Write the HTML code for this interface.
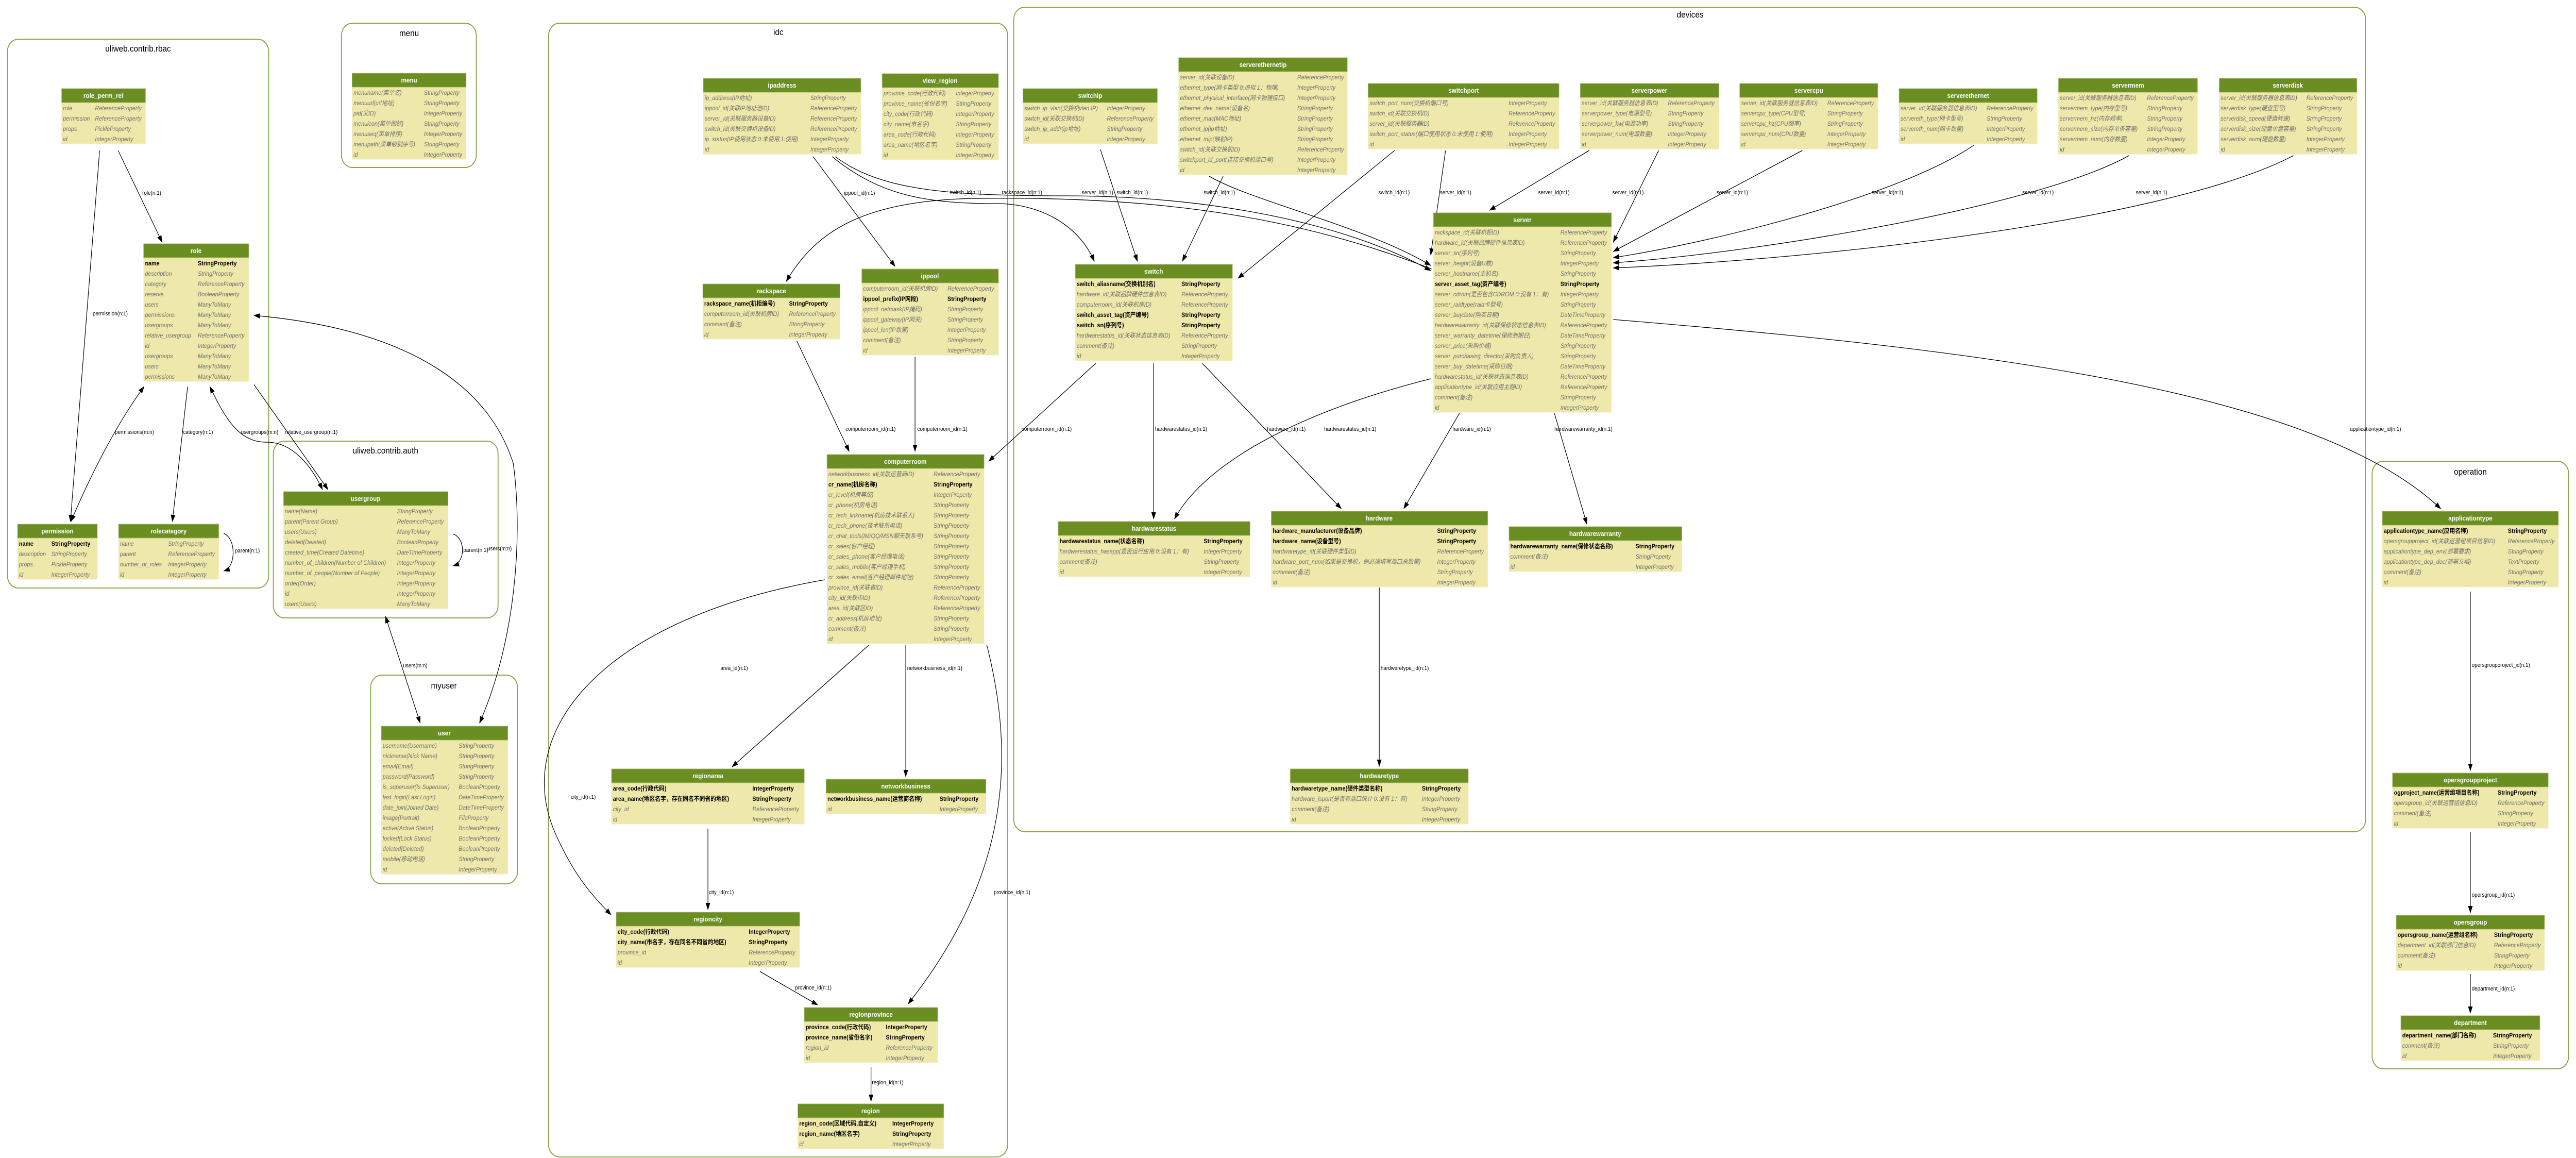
<!DOCTYPE html>
<html><head><meta charset="utf-8"><style>
html,body{margin:0;padding:0;background:#fff;overflow:hidden;width:100%;height:100%}
svg{display:block;width:100vw;height:100vh}
text{font-family:"Liberation Sans Narrow","Liberation Sans","Noto Sans CJK SC",sans-serif}
.h{fill:#fff;font-size:13px;text-anchor:middle;font-weight:bold}
.f{font-style:italic;fill:#707070;font-size:12px}
.b{fill:#000;font-weight:bold;font-size:12px}
.hd{fill:#6b8e23;stroke:#a8b86a;stroke-width:1}
.bd{fill:#eee8aa;stroke:#f2eec4;stroke-width:1}
.cl{fill:none;stroke:#8aa548;stroke-width:2}
.ct{font-size:17px;text-anchor:middle;fill:#000}
.e{fill:none;stroke:#000;stroke-width:1.3}
.l{font-size:11px;fill:#000}
</style></head><body>
<svg viewBox="0 0 5560 2247" preserveAspectRatio="none" xmlns="http://www.w3.org/2000/svg">
<defs>
<marker id="a" markerWidth="14" markerHeight="10" refX="13" refY="5" orient="auto" markerUnits="userSpaceOnUse"><path d="M0,0 L14,5 L0,10 z" fill="#000"/></marker>
<marker id="s" markerWidth="14" markerHeight="10" refX="1" refY="5" orient="auto" markerUnits="userSpaceOnUse"><path d="M14,0 L0,5 L14,10 z" fill="#000"/></marker>
</defs>

<!-- clusters -->
<rect class="cl" x="16" y="76" width="564" height="1065" rx="24"/><text class="ct" x="298" y="100">uliweb.contrib.rbac</text>
<rect class="cl" x="737" y="45" width="291" height="280" rx="24"/><text class="ct" x="883" y="70">menu</text>
<rect class="cl" x="590" y="856" width="485" height="343" rx="24"/><text class="ct" x="832" y="880">uliweb.contrib.auth</text>
<rect class="cl" x="800" y="1310" width="317" height="405" rx="24"/><text class="ct" x="958" y="1336">myuser</text>
<rect class="cl" x="1184" y="45" width="991" height="2200" rx="24"/><text class="ct" x="1680" y="68">idc</text>
<rect class="cl" x="2188" y="14" width="2918" height="1600" rx="24"/><text class="ct" x="3648" y="34">devices</text>
<rect class="cl" x="5120" y="895" width="424" height="1179" rx="24"/><text class="ct" x="5332" y="921">operation</text>

<!-- edges -->
<path class="e" marker-end="url(#a)" d="M255,292 L350,470"/><text class="l" x="307" y="378">role(n:1)</text>
<path class="e" marker-end="url(#a)" d="M215,292 L152,1012"/><text class="l" x="200" y="612">permission(n:1)</text>
<path class="e" marker-start="url(#s)" marker-end="url(#a)" d="M311,750 Q230,850 153,1012"/><text class="l" x="248" y="842">permissions(m:n)</text>
<path class="e" marker-end="url(#a)" d="M405,750 L372,1012"/><text class="l" x="395" y="842">category(n:1)</text>
<path class="e" marker-end="url(#a)" d="M483,1035 C510,1045 510,1100 483,1108"/><text class="l" x="507" y="1072">parent(n:1)</text>
<path class="e" marker-start="url(#s)" marker-end="url(#a)" d="M453,750 C490,820 520,860 580,858 C630,860 670,900 696,950"/><text class="l" x="520" y="842">usergroups(m:n)</text>
<path class="e" marker-end="url(#a)" d="M548,746 L708,950"/><text class="l" x="615" y="842">relative_usergroup(n:1)</text>
<path class="e" marker-start="url(#s)" marker-end="url(#a)" d="M548,612 C900,640 1060,760 1108,900 C1130,1050 1110,1250 1035,1403"/><text class="l" x="1052" y="1068">users(m:n)</text>
<path class="e" marker-end="url(#a)" d="M978,1036 C1005,1045 1005,1090 978,1098"/><text class="l" x="1000" y="1071">parent(n:1)</text>
<path class="e" marker-start="url(#s)" marker-end="url(#a)" d="M832,1196 L907,1403"/><text class="l" x="870" y="1295">users(m:n)</text>

<path class="e" marker-end="url(#a)" d="M1755,304 L1932,517"/><text class="l" x="1822" y="378">ippool_id(n:1)</text>
<path class="e" marker-end="url(#a)" d="M3090,522 C2800,420 2500,380 2100,385 C1860,390 1760,450 1697,546"/><text class="l" x="2162" y="377">rackspace_id(n:1)</text>
<path class="e" marker-end="url(#a)" d="M1796,304 C1900,380 2000,395 2150,395 C2250,395 2330,440 2362,507"/><text class="l" x="2050" y="377">switch_id(n:1)</text>
<path class="e" marker-end="url(#a)" d="M1803,304 C1900,370 2050,380 2300,380 C2600,380 2900,430 3088,525"/>
<path class="e" marker-end="url(#a)" d="M1720,662 L1833,876"/><text class="l" x="1825" y="836">computerroom_id(n:1)</text>
<path class="e" marker-end="url(#a)" d="M1975,692 L1975,876"/><text class="l" x="1980" y="836">computerroom_id(n:1)</text>
<path class="e" marker-end="url(#a)" d="M2365,705 L2134,895"/><text class="l" x="2205" y="836">computerroom_id(n:1)</text>
<path class="e" marker-end="url(#a)" d="M1875,1252 L1580,1488"/><text class="l" x="1555" y="1300">area_id(n:1)</text>
<path class="e" marker-end="url(#a)" d="M1955,1252 L1955,1507"/><text class="l" x="1958" y="1300">networkbusiness_id(n:1)</text>
<path class="e" marker-end="url(#a)" d="M1780,1125 C1300,1200 1100,1420 1200,1620 C1240,1700 1280,1740 1319,1775"/><text class="l" x="1232" y="1550">city_id(n:1)</text>
<path class="e" marker-end="url(#a)" d="M2130,1252 C2200,1500 2160,1720 1960,1948"/><text class="l" x="2145" y="1735">province_id(n:1)</text>
<path class="e" marker-end="url(#a)" d="M1528,1608 L1528,1765"/><text class="l" x="1530" y="1735">city_id(n:1)</text>
<path class="e" marker-end="url(#a)" d="M1640,1885 L1765,1950"/><text class="l" x="1716" y="1920">province_id(n:1)</text>
<path class="e" marker-end="url(#a)" d="M1880,2071 L1880,2137"/><text class="l" x="1882" y="2104">region_id(n:1)</text>

<path class="e" marker-end="url(#a)" d="M2375,290 L2455,507"/><text class="l" x="2410" y="377">switch_id(n:1)</text>
<path class="e" marker-end="url(#a)" d="M2640,342 L2552,507"/><text class="l" x="2598" y="377">switch_id(n:1)</text>
<path class="e" marker-end="url(#a)" d="M2610,342 C2700,390 2950,440 3088,515"/><text class="l" x="2335" y="377">server_id(n:1)</text>
<path class="e" marker-end="url(#a)" d="M3010,292 L2672,540"/><text class="l" x="2975" y="377">switch_id(n:1)</text>
<path class="e" marker-end="url(#a)" d="M3120,292 L3088,495"/><text class="l" x="3108" y="377">server_id(n:1)</text>
<path class="e" marker-end="url(#a)" d="M3430,292 L3215,408"/><text class="l" x="3320" y="377">server_id(n:1)</text>
<path class="e" marker-end="url(#a)" d="M3580,292 L3482,470"/><text class="l" x="3480" y="377">server_id(n:1)</text>
<path class="e" marker-end="url(#a)" d="M3890,292 L3482,488"/><text class="l" x="3705" y="377">server_id(n:1)</text>
<path class="e" marker-end="url(#a)" d="M4260,282 C4100,380 3700,470 3482,500"/><text class="l" x="4040" y="377">server_id(n:1)</text>
<path class="e" marker-end="url(#a)" d="M4595,302 C4400,400 3800,490 3482,510"/><text class="l" x="4365" y="377">server_id(n:1)</text>
<path class="e" marker-end="url(#a)" d="M4950,302 C4700,420 4000,500 3482,520"/><text class="l" x="4610" y="377">server_id(n:1)</text>

<path class="e" marker-end="url(#a)" d="M2490,705 L2490,1007"/><text class="l" x="2493" y="836">hardwarestatus_id(n:1)</text>
<path class="e" marker-end="url(#a)" d="M2595,705 L2895,987"/><text class="l" x="2735" y="836">hardware_id(n:1)</text>
<path class="e" marker-end="url(#a)" d="M3088,735 C2800,800 2600,900 2535,1007"/><text class="l" x="2858" y="836">hardwarestatus_id(n:1)</text>
<path class="e" marker-end="url(#a)" d="M3150,802 L3030,987"/><text class="l" x="3135" y="836">hardware_id(n:1)</text>
<path class="e" marker-end="url(#a)" d="M3355,802 L3425,1017"/><text class="l" x="3355" y="836">hardwarewarranty_id(n:1)</text>
<path class="e" marker-end="url(#a)" d="M3482,620 C4300,680 5000,760 5268,987"/><text class="l" x="5072" y="836">applicationtype_id(n:1)</text>
<path class="e" marker-end="url(#a)" d="M2977,1140 L2977,1487"/><text class="l" x="2980" y="1300">hardwaretype_id(n:1)</text>

<path class="e" marker-end="url(#a)" d="M5332,1148 L5332,1495"/><text class="l" x="5335" y="1294">opersgroupproject_id(n:1)</text>
<path class="e" marker-end="url(#a)" d="M5332,1614 L5332,1771"/><text class="l" x="5335" y="1740">opersgroup_id(n:1)</text>
<path class="e" marker-end="url(#a)" d="M5332,1890 L5332,1966"/><text class="l" x="5335" y="1922">department_id(n:1)</text>

<!-- nodes -->
<g transform="translate(133,172)"><rect class="bd" x="0" y="27" width="181" height="80"/><rect class="hd" x="0" y="0" width="181" height="27"/><text class="h" x="90" y="18">role_perm_rel</text>
<text class="f" x="3" y="42">role</text><text class="f" x="72" y="42">ReferenceProperty</text>
<text class="f" x="3" y="62">permission</text><text class="f" x="72" y="62">ReferenceProperty</text>
<text class="f" x="3" y="82">props</text><text class="f" x="72" y="82">PickleProperty</text>
<text class="f" x="3" y="102">id</text><text class="f" x="72" y="102">IntegerProperty</text></g>

<g transform="translate(760,142)"><rect class="bd" x="0" y="27" width="246" height="140"/><rect class="hd" x="0" y="0" width="246" height="27"/><text class="h" x="123" y="18">menu</text>
<text class="f" x="3" y="42">menuname(菜单名)</text><text class="f" x="155" y="42">StringProperty</text>
<text class="f" x="3" y="62">menuurl(url地址)</text><text class="f" x="155" y="62">StringProperty</text>
<text class="f" x="3" y="82">pid(父ID)</text><text class="f" x="155" y="82">IntegerProperty</text>
<text class="f" x="3" y="102">menuicon(菜单图标)</text><text class="f" x="155" y="102">StringProperty</text>
<text class="f" x="3" y="122">menuseq(菜单排序)</text><text class="f" x="155" y="122">IntegerProperty</text>
<text class="f" x="3" y="142">menupath(菜单级别序号)</text><text class="f" x="155" y="142">StringProperty</text>
<text class="f" x="3" y="162">id</text><text class="f" x="155" y="162">IntegerProperty</text></g>

<g transform="translate(310,473)"><rect class="bd" x="0" y="27" width="227" height="240"/><rect class="hd" x="0" y="0" width="227" height="27"/><text class="h" x="113" y="18">role</text>
<text class="b" x="3" y="42">name</text><text class="b" x="117" y="42">StringProperty</text>
<text class="f" x="3" y="62">description</text><text class="f" x="117" y="62">StringProperty</text>
<text class="f" x="3" y="82">category</text><text class="f" x="117" y="82">ReferenceProperty</text>
<text class="f" x="3" y="102">reserve</text><text class="f" x="117" y="102">BooleanProperty</text>
<text class="f" x="3" y="122">users</text><text class="f" x="117" y="122">ManyToMany</text>
<text class="f" x="3" y="142">permissions</text><text class="f" x="117" y="142">ManyToMany</text>
<text class="f" x="3" y="162">usergroups</text><text class="f" x="117" y="162">ManyToMany</text>
<text class="f" x="3" y="182">relative_usergroup</text><text class="f" x="117" y="182">ReferenceProperty</text>
<text class="f" x="3" y="202">id</text><text class="f" x="117" y="202">IntegerProperty</text>
<text class="f" x="3" y="222">usergroups</text><text class="f" x="117" y="222">ManyToMany</text>
<text class="f" x="3" y="242">users</text><text class="f" x="117" y="242">ManyToMany</text>
<text class="f" x="3" y="262">permissions</text><text class="f" x="117" y="262">ManyToMany</text></g>

<g transform="translate(38,1017)"><rect class="bd" x="0" y="27" width="172" height="80"/><rect class="hd" x="0" y="0" width="172" height="27"/><text class="h" x="86" y="18">permission</text>
<text class="b" x="3" y="42">name</text><text class="b" x="73" y="42">StringProperty</text>
<text class="f" x="3" y="62">description</text><text class="f" x="73" y="62">StringProperty</text>
<text class="f" x="3" y="82">props</text><text class="f" x="73" y="82">PickleProperty</text>
<text class="f" x="3" y="102">id</text><text class="f" x="73" y="102">IntegerProperty</text></g>

<g transform="translate(256,1017)"><rect class="bd" x="0" y="27" width="216" height="80"/><rect class="hd" x="0" y="0" width="216" height="27"/><text class="h" x="108" y="18">rolecategory</text>
<text class="f" x="3" y="42">name</text><text class="f" x="107" y="42">StringProperty</text>
<text class="f" x="3" y="62">parent</text><text class="f" x="107" y="62">ReferenceProperty</text>
<text class="f" x="3" y="82">number_of_roles</text><text class="f" x="107" y="82">IntegerProperty</text>
<text class="f" x="3" y="102">id</text><text class="f" x="107" y="102">IntegerProperty</text></g>

<g transform="translate(612,954)"><rect class="bd" x="0" y="27" width="355" height="200"/><rect class="hd" x="0" y="0" width="355" height="27"/><text class="h" x="177" y="18">usergroup</text>
<text class="f" x="3" y="42">name(Name)</text><text class="f" x="245" y="42">StringProperty</text>
<text class="f" x="3" y="62">parent(Parent Group)</text><text class="f" x="245" y="62">ReferenceProperty</text>
<text class="f" x="3" y="82">users(Users)</text><text class="f" x="245" y="82">ManyToMany</text>
<text class="f" x="3" y="102">deleted(Deleted)</text><text class="f" x="245" y="102">BooleanProperty</text>
<text class="f" x="3" y="122">created_time(Created Datetime)</text><text class="f" x="245" y="122">DateTimeProperty</text>
<text class="f" x="3" y="142">number_of_children(Number of Children)</text><text class="f" x="245" y="142">IntegerProperty</text>
<text class="f" x="3" y="162">number_of_people(Number of People)</text><text class="f" x="245" y="162">IntegerProperty</text>
<text class="f" x="3" y="182">order(Order)</text><text class="f" x="245" y="182">IntegerProperty</text>
<text class="f" x="3" y="202">id</text><text class="f" x="245" y="202">IntegerProperty</text>
<text class="f" x="3" y="222">users(Users)</text><text class="f" x="245" y="222">ManyToMany</text></g>

<g transform="translate(823,1409)"><rect class="bd" x="0" y="27" width="273" height="260"/><rect class="hd" x="0" y="0" width="273" height="27"/><text class="h" x="136" y="18">user</text>
<text class="f" x="3" y="42">username(Username)</text><text class="f" x="167" y="42">StringProperty</text>
<text class="f" x="3" y="62">nickname(Nick Name)</text><text class="f" x="167" y="62">StringProperty</text>
<text class="f" x="3" y="82">email(Email)</text><text class="f" x="167" y="82">StringProperty</text>
<text class="f" x="3" y="102">password(Password)</text><text class="f" x="167" y="102">StringProperty</text>
<text class="f" x="3" y="122">is_superuser(Is Superuser)</text><text class="f" x="167" y="122">BooleanProperty</text>
<text class="f" x="3" y="142">last_login(Last Login)</text><text class="f" x="167" y="142">DateTimeProperty</text>
<text class="f" x="3" y="162">date_join(Joined Date)</text><text class="f" x="167" y="162">DateTimeProperty</text>
<text class="f" x="3" y="182">image(Portrait)</text><text class="f" x="167" y="182">FileProperty</text>
<text class="f" x="3" y="202">active(Active Status)</text><text class="f" x="167" y="202">BooleanProperty</text>
<text class="f" x="3" y="222">locked(Lock Status)</text><text class="f" x="167" y="222">BooleanProperty</text>
<text class="f" x="3" y="242">deleted(Deleted)</text><text class="f" x="167" y="242">BooleanProperty</text>
<text class="f" x="3" y="262">mobile(移动电话)</text><text class="f" x="167" y="262">StringProperty</text>
<text class="f" x="3" y="282">id</text><text class="f" x="167" y="282">IntegerProperty</text></g>

<g transform="translate(1518,152)"><rect class="bd" x="0" y="27" width="340" height="120"/><rect class="hd" x="0" y="0" width="340" height="27"/><text class="h" x="170" y="18">ipaddress</text>
<text class="f" x="3" y="42">ip_address(IP地址)</text><text class="f" x="231" y="42">StringProperty</text>
<text class="f" x="3" y="62">ippool_id(关联IP地址池ID)</text><text class="f" x="231" y="62">ReferenceProperty</text>
<text class="f" x="3" y="82">server_id(关联服务器设备ID)</text><text class="f" x="231" y="82">ReferenceProperty</text>
<text class="f" x="3" y="102">switch_id(关联交换机设备ID)</text><text class="f" x="231" y="102">ReferenceProperty</text>
<text class="f" x="3" y="122">ip_status(IP使用状态 0:未使用,1:使用)</text><text class="f" x="231" y="122">IntegerProperty</text>
<text class="f" x="3" y="142">id</text><text class="f" x="231" y="142">IntegerProperty</text></g>

<g transform="translate(1904,143)"><rect class="bd" x="0" y="27" width="251" height="140"/><rect class="hd" x="0" y="0" width="251" height="27"/><text class="h" x="125" y="18">view_region</text>
<text class="f" x="3" y="42">province_code(行政代码)</text><text class="f" x="159" y="42">IntegerProperty</text>
<text class="f" x="3" y="62">province_name(省份名字)</text><text class="f" x="159" y="62">StringProperty</text>
<text class="f" x="3" y="82">city_code(行政代码)</text><text class="f" x="159" y="82">IntegerProperty</text>
<text class="f" x="3" y="102">city_name(市名字)</text><text class="f" x="159" y="102">StringProperty</text>
<text class="f" x="3" y="122">area_code(行政代码)</text><text class="f" x="159" y="122">IntegerProperty</text>
<text class="f" x="3" y="142">area_name(地区名字)</text><text class="f" x="159" y="142">StringProperty</text>
<text class="f" x="3" y="162">id</text><text class="f" x="159" y="162">IntegerProperty</text></g>

<g transform="translate(1517,551)"><rect class="bd" x="0" y="27" width="296" height="80"/><rect class="hd" x="0" y="0" width="296" height="27"/><text class="h" x="148" y="18">rackspace</text>
<text class="b" x="3" y="42">rackspace_name(机柜编号)</text><text class="b" x="186" y="42">StringProperty</text>
<text class="f" x="3" y="62">computerroom_id(关联机房ID)</text><text class="f" x="186" y="62">ReferenceProperty</text>
<text class="f" x="3" y="82">comment(备注)</text><text class="f" x="186" y="82">StringProperty</text>
<text class="f" x="3" y="102">id</text><text class="f" x="186" y="102">IntegerProperty</text></g>

<g transform="translate(1860,522)"><rect class="bd" x="0" y="27" width="295" height="140"/><rect class="hd" x="0" y="0" width="295" height="27"/><text class="h" x="147" y="18">ippool</text>
<text class="f" x="3" y="42">computerroom_id(关联机房ID)</text><text class="f" x="185" y="42">ReferenceProperty</text>
<text class="b" x="3" y="62">ippool_prefix(IP网段)</text><text class="b" x="185" y="62">StringProperty</text>
<text class="f" x="3" y="82">ippool_netmask(IP掩码)</text><text class="f" x="185" y="82">StringProperty</text>
<text class="f" x="3" y="102">ippool_gateway(IP网关)</text><text class="f" x="185" y="102">StringProperty</text>
<text class="f" x="3" y="122">ippool_len(IP数量)</text><text class="f" x="185" y="122">IntegerProperty</text>
<text class="f" x="3" y="142">comment(备注)</text><text class="f" x="185" y="142">StringProperty</text>
<text class="f" x="3" y="162">id</text><text class="f" x="185" y="162">IntegerProperty</text></g>

<g transform="translate(1785,882)"><rect class="bd" x="0" y="27" width="339" height="340"/><rect class="hd" x="0" y="0" width="339" height="27"/><text class="h" x="169" y="18">computerroom</text>
<text class="f" x="3" y="42">networkbusiness_id(关联运营商ID)</text><text class="f" x="230" y="42">ReferenceProperty</text>
<text class="b" x="3" y="62">cr_name(机房名称)</text><text class="b" x="230" y="62">StringProperty</text>
<text class="f" x="3" y="82">cr_level(机房等级)</text><text class="f" x="230" y="82">IntegerProperty</text>
<text class="f" x="3" y="102">cr_phone(机房电话)</text><text class="f" x="230" y="102">StringProperty</text>
<text class="f" x="3" y="122">cr_tech_linkname(机房技术联系人)</text><text class="f" x="230" y="122">StringProperty</text>
<text class="f" x="3" y="142">cr_tech_phone(技术联系电话)</text><text class="f" x="230" y="142">StringProperty</text>
<text class="f" x="3" y="162">cr_chat_tools(IM/QQ/MSN聊天联系号)</text><text class="f" x="230" y="162">StringProperty</text>
<text class="f" x="3" y="182">cr_sales(客户经理)</text><text class="f" x="230" y="182">StringProperty</text>
<text class="f" x="3" y="202">cr_sales_phone(客户经理电话)</text><text class="f" x="230" y="202">StringProperty</text>
<text class="f" x="3" y="222">cr_sales_mobile(客户经理手机)</text><text class="f" x="230" y="222">StringProperty</text>
<text class="f" x="3" y="242">cr_sales_email(客户经理邮件地址)</text><text class="f" x="230" y="242">StringProperty</text>
<text class="f" x="3" y="262">province_id(关联省ID)</text><text class="f" x="230" y="262">ReferenceProperty</text>
<text class="f" x="3" y="282">city_id(关联市ID)</text><text class="f" x="230" y="282">ReferenceProperty</text>
<text class="f" x="3" y="302">area_id(关联区ID)</text><text class="f" x="230" y="302">ReferenceProperty</text>
<text class="f" x="3" y="322">cr_address(机房地址)</text><text class="f" x="230" y="322">StringProperty</text>
<text class="f" x="3" y="342">comment(备注)</text><text class="f" x="230" y="342">StringProperty</text>
<text class="f" x="3" y="362">id</text><text class="f" x="230" y="362">IntegerProperty</text></g>

<g transform="translate(1320,1492)"><rect class="bd" x="0" y="27" width="416" height="80"/><rect class="hd" x="0" y="0" width="416" height="27"/><text class="h" x="208" y="18">regionarea</text>
<text class="b" x="3" y="42">area_code(行政代码)</text><text class="b" x="304" y="42">IntegerProperty</text>
<text class="b" x="3" y="62">area_name(地区名字，存在同名不同省的地区)</text><text class="b" x="304" y="62">StringProperty</text>
<text class="f" x="3" y="82">city_id</text><text class="f" x="304" y="82">ReferenceProperty</text>
<text class="f" x="3" y="102">id</text><text class="f" x="304" y="102">IntegerProperty</text></g>

<g transform="translate(1783,1512)"><rect class="bd" x="0" y="27" width="345" height="40"/><rect class="hd" x="0" y="0" width="345" height="27"/><text class="h" x="172" y="18">networkbusiness</text>
<text class="b" x="3" y="42">networkbusiness_name(运营商名称)</text><text class="b" x="245" y="42">StringProperty</text>
<text class="f" x="3" y="62">id</text><text class="f" x="245" y="62">IntegerProperty</text></g>

<g transform="translate(1330,1770)"><rect class="bd" x="0" y="27" width="396" height="80"/><rect class="hd" x="0" y="0" width="396" height="27"/><text class="h" x="198" y="18">regioncity</text>
<text class="b" x="3" y="42">city_code(行政代码)</text><text class="b" x="286" y="42">IntegerProperty</text>
<text class="b" x="3" y="62">city_name(市名字，存在同名不同省的地区)</text><text class="b" x="286" y="62">StringProperty</text>
<text class="f" x="3" y="82">province_id</text><text class="f" x="286" y="82">ReferenceProperty</text>
<text class="f" x="3" y="102">id</text><text class="f" x="286" y="102">IntegerProperty</text></g>

<g transform="translate(1736,1955)"><rect class="bd" x="0" y="27" width="288" height="80"/><rect class="hd" x="0" y="0" width="288" height="27"/><text class="h" x="144" y="18">regionprovince</text>
<text class="b" x="3" y="42">province_code(行政代码)</text><text class="b" x="176" y="42">IntegerProperty</text>
<text class="b" x="3" y="62">province_name(省份名字)</text><text class="b" x="176" y="62">StringProperty</text>
<text class="f" x="3" y="82">region_id</text><text class="f" x="176" y="82">ReferenceProperty</text>
<text class="f" x="3" y="102">id</text><text class="f" x="176" y="102">IntegerProperty</text></g>

<g transform="translate(1722,2142)"><rect class="bd" x="0" y="27" width="315" height="60"/><rect class="hd" x="0" y="0" width="315" height="27"/><text class="h" x="157" y="18">region</text>
<text class="b" x="3" y="42">region_code(区域代码,自定义)</text><text class="b" x="204" y="42">IntegerProperty</text>
<text class="b" x="3" y="62">region_name(地区名字)</text><text class="b" x="204" y="62">StringProperty</text>
<text class="f" x="3" y="82">id</text><text class="f" x="204" y="82">IntegerProperty</text></g>

<g transform="translate(2208,172)"><rect class="bd" x="0" y="27" width="290" height="80"/><rect class="hd" x="0" y="0" width="290" height="27"/><text class="h" x="145" y="18">switchip</text>
<text class="f" x="3" y="42">switch_ip_vlan(交换机vlan IP)</text><text class="f" x="181" y="42">IntegerProperty</text>
<text class="f" x="3" y="62">switch_id(关联交换机ID)</text><text class="f" x="181" y="62">ReferenceProperty</text>
<text class="f" x="3" y="82">switch_ip_addr(ip地址)</text><text class="f" x="181" y="82">StringProperty</text>
<text class="f" x="3" y="102">id</text><text class="f" x="181" y="102">IntegerProperty</text></g>

<g transform="translate(2544,112)"><rect class="bd" x="0" y="27" width="364" height="200"/><rect class="hd" x="0" y="0" width="364" height="27"/><text class="h" x="182" y="18">serverethernetip</text>
<text class="f" x="3" y="42">server_id(关联设备ID)</text><text class="f" x="256" y="42">ReferenceProperty</text>
<text class="f" x="3" y="62">ethernet_type(网卡类型 0:虚拟 1：物理)</text><text class="f" x="256" y="62">IntegerProperty</text>
<text class="f" x="3" y="82">ethernet_physical_interface(网卡物理接口)</text><text class="f" x="256" y="82">IntegerProperty</text>
<text class="f" x="3" y="102">ethernet_dev_name(设备名)</text><text class="f" x="256" y="102">StringProperty</text>
<text class="f" x="3" y="122">ethernet_mac(MAC地址)</text><text class="f" x="256" y="122">StringProperty</text>
<text class="f" x="3" y="142">ethernet_ip(ip地址)</text><text class="f" x="256" y="142">StringProperty</text>
<text class="f" x="3" y="162">ethernet_mip(映射IP)</text><text class="f" x="256" y="162">StringProperty</text>
<text class="f" x="3" y="182">switch_id(关联交换机ID)</text><text class="f" x="256" y="182">ReferenceProperty</text>
<text class="f" x="3" y="202">switchport_id_port(连接交换机端口号)</text><text class="f" x="256" y="202">IntegerProperty</text>
<text class="f" x="3" y="222">id</text><text class="f" x="256" y="222">IntegerProperty</text></g>

<g transform="translate(2953,162)"><rect class="bd" x="0" y="27" width="412" height="100"/><rect class="hd" x="0" y="0" width="412" height="27"/><text class="h" x="206" y="18">switchport</text>
<text class="f" x="3" y="42">switch_port_num(交换机端口号)</text><text class="f" x="303" y="42">IntegerProperty</text>
<text class="f" x="3" y="62">switch_id(关联交换机ID)</text><text class="f" x="303" y="62">ReferenceProperty</text>
<text class="f" x="3" y="82">server_id(关联服务器ID)</text><text class="f" x="303" y="82">ReferenceProperty</text>
<text class="f" x="3" y="102">switch_port_status(端口使用状态 0:未使用 1:使用)</text><text class="f" x="303" y="102">IntegerProperty</text>
<text class="f" x="3" y="122">id</text><text class="f" x="303" y="122">IntegerProperty</text></g>

<g transform="translate(3411,162)"><rect class="bd" x="0" y="27" width="299" height="100"/><rect class="hd" x="0" y="0" width="299" height="27"/><text class="h" x="149" y="18">serverpower</text>
<text class="f" x="3" y="42">server_id(关联服务器信息表ID)</text><text class="f" x="189" y="42">ReferenceProperty</text>
<text class="f" x="3" y="62">serverpower_type(电源型号)</text><text class="f" x="189" y="62">StringProperty</text>
<text class="f" x="3" y="82">serverpower_kw(电源功率)</text><text class="f" x="189" y="82">StringProperty</text>
<text class="f" x="3" y="102">serverpower_num(电源数量)</text><text class="f" x="189" y="102">IntegerProperty</text>
<text class="f" x="3" y="122">id</text><text class="f" x="189" y="122">IntegerProperty</text></g>

<g transform="translate(3755,162)"><rect class="bd" x="0" y="27" width="298" height="100"/><rect class="hd" x="0" y="0" width="298" height="27"/><text class="h" x="149" y="18">servercpu</text>
<text class="f" x="3" y="42">server_id(关联服务器信息表ID)</text><text class="f" x="189" y="42">ReferenceProperty</text>
<text class="f" x="3" y="62">servercpu_type(CPU型号)</text><text class="f" x="189" y="62">StringProperty</text>
<text class="f" x="3" y="82">servercpu_hz(CPU频率)</text><text class="f" x="189" y="82">StringProperty</text>
<text class="f" x="3" y="102">servercpu_num(CPU数量)</text><text class="f" x="189" y="102">IntegerProperty</text>
<text class="f" x="3" y="122">id</text><text class="f" x="189" y="122">IntegerProperty</text></g>

<g transform="translate(4099,172)"><rect class="bd" x="0" y="27" width="298" height="80"/><rect class="hd" x="0" y="0" width="298" height="27"/><text class="h" x="149" y="18">serverethernet</text>
<text class="f" x="3" y="42">server_id(关联服务器信息表ID)</text><text class="f" x="189" y="42">ReferenceProperty</text>
<text class="f" x="3" y="62">servereth_type(网卡型号)</text><text class="f" x="189" y="62">StringProperty</text>
<text class="f" x="3" y="82">servereth_num(网卡数量)</text><text class="f" x="189" y="82">IntegerProperty</text>
<text class="f" x="3" y="102">id</text><text class="f" x="189" y="102">IntegerProperty</text></g>

<g transform="translate(4443,152)"><rect class="bd" x="0" y="27" width="300" height="120"/><rect class="hd" x="0" y="0" width="300" height="27"/><text class="h" x="150" y="18">servermem</text>
<text class="f" x="3" y="42">server_id(关联服务器信息表ID)</text><text class="f" x="191" y="42">ReferenceProperty</text>
<text class="f" x="3" y="62">servermem_type(内存型号)</text><text class="f" x="191" y="62">StringProperty</text>
<text class="f" x="3" y="82">servermem_hz(内存频率)</text><text class="f" x="191" y="82">StringProperty</text>
<text class="f" x="3" y="102">servermem_size(内存单条容量)</text><text class="f" x="191" y="102">StringProperty</text>
<text class="f" x="3" y="122">servermem_num(内存数量)</text><text class="f" x="191" y="122">IntegerProperty</text>
<text class="f" x="3" y="142">id</text><text class="f" x="191" y="142">IntegerProperty</text></g>

<g transform="translate(4790,152)"><rect class="bd" x="0" y="27" width="297" height="120"/><rect class="hd" x="0" y="0" width="297" height="27"/><text class="h" x="148" y="18">serverdisk</text>
<text class="f" x="3" y="42">server_id(关联服务器信息表ID)</text><text class="f" x="188" y="42">ReferenceProperty</text>
<text class="f" x="3" y="62">serverdisk_type(硬盘型号)</text><text class="f" x="188" y="62">StringProperty</text>
<text class="f" x="3" y="82">serverdisk_speed(硬盘转速)</text><text class="f" x="188" y="82">StringProperty</text>
<text class="f" x="3" y="102">serverdisk_size(硬盘单盘容量)</text><text class="f" x="188" y="102">StringProperty</text>
<text class="f" x="3" y="122">serverdisk_num(硬盘数量)</text><text class="f" x="188" y="122">IntegerProperty</text>
<text class="f" x="3" y="142">id</text><text class="f" x="188" y="142">IntegerProperty</text></g>

<g transform="translate(2321,513)"><rect class="bd" x="0" y="27" width="339" height="160"/><rect class="hd" x="0" y="0" width="339" height="27"/><text class="h" x="169" y="18">switch</text>
<text class="b" x="3" y="42">switch_aliasname(交换机别名)</text><text class="b" x="229" y="42">StringProperty</text>
<text class="f" x="3" y="62">hardware_id(关联品牌硬件信息表ID)</text><text class="f" x="229" y="62">ReferenceProperty</text>
<text class="f" x="3" y="82">computerroom_id(关联机房ID)</text><text class="f" x="229" y="82">ReferenceProperty</text>
<text class="b" x="3" y="102">switch_asset_tag(资产编号)</text><text class="b" x="229" y="102">StringProperty</text>
<text class="b" x="3" y="122">switch_sn(序列号)</text><text class="b" x="229" y="122">StringProperty</text>
<text class="f" x="3" y="142">hardwarestatus_id(关联状态信息表ID)</text><text class="f" x="229" y="142">ReferenceProperty</text>
<text class="f" x="3" y="162">comment(备注)</text><text class="f" x="229" y="162">StringProperty</text>
<text class="f" x="3" y="182">id</text><text class="f" x="229" y="182">IntegerProperty</text></g>

<g transform="translate(3094,413)"><rect class="bd" x="0" y="27" width="384" height="360"/><rect class="hd" x="0" y="0" width="384" height="27"/><text class="h" x="192" y="18">server</text>
<text class="f" x="3" y="42">rackspace_id(关联机柜ID)</text><text class="f" x="274" y="42">ReferenceProperty</text>
<text class="f" x="3" y="62">hardware_id(关联品牌硬件信息表ID)</text><text class="f" x="274" y="62">ReferenceProperty</text>
<text class="f" x="3" y="82">server_sn(序列号)</text><text class="f" x="274" y="82">StringProperty</text>
<text class="f" x="3" y="102">server_height(设备U数)</text><text class="f" x="274" y="102">IntegerProperty</text>
<text class="f" x="3" y="122">server_hostname(主机名)</text><text class="f" x="274" y="122">StringProperty</text>
<text class="b" x="3" y="142">server_asset_tag(资产编号)</text><text class="b" x="274" y="142">StringProperty</text>
<text class="f" x="3" y="162">server_cdrom(是否包含CDROM 0:没有 1：有)</text><text class="f" x="274" y="162">IntegerProperty</text>
<text class="f" x="3" y="182">server_raidtype(raid卡型号)</text><text class="f" x="274" y="182">StringProperty</text>
<text class="f" x="3" y="202">server_buydate(购买日期)</text><text class="f" x="274" y="202">DateTimeProperty</text>
<text class="f" x="3" y="222">hardwarewarranty_id(关联保修状态信息表ID)</text><text class="f" x="274" y="222">ReferenceProperty</text>
<text class="f" x="3" y="242">server_warranty_datetime(保修到期日)</text><text class="f" x="274" y="242">DateTimeProperty</text>
<text class="f" x="3" y="262">server_price(采购价格)</text><text class="f" x="274" y="262">StringProperty</text>
<text class="f" x="3" y="282">server_purchasing_director(采购负责人)</text><text class="f" x="274" y="282">StringProperty</text>
<text class="f" x="3" y="302">server_buy_datetime(采购日期)</text><text class="f" x="274" y="302">DateTimeProperty</text>
<text class="f" x="3" y="322">hardwarestatus_id(关联状态信息表ID)</text><text class="f" x="274" y="322">ReferenceProperty</text>
<text class="f" x="3" y="342">applicationtype_id(关联应用主题ID)</text><text class="f" x="274" y="342">ReferenceProperty</text>
<text class="f" x="3" y="362">comment(备注)</text><text class="f" x="274" y="362">StringProperty</text>
<text class="f" x="3" y="382">id</text><text class="f" x="274" y="382">IntegerProperty</text></g>

<g transform="translate(2284,1012)"><rect class="bd" x="0" y="27" width="414" height="80"/><rect class="hd" x="0" y="0" width="414" height="27"/><text class="h" x="207" y="18">hardwarestatus</text>
<text class="b" x="3" y="42">hardwarestatus_name(状态名称)</text><text class="b" x="314" y="42">StringProperty</text>
<text class="f" x="3" y="62">hardwarestatus_hasapp(是否运行应用 0:没有 1：有)</text><text class="f" x="314" y="62">IntegerProperty</text>
<text class="f" x="3" y="82">comment(备注)</text><text class="f" x="314" y="82">StringProperty</text>
<text class="f" x="3" y="102">id</text><text class="f" x="314" y="102">IntegerProperty</text></g>

<g transform="translate(2744,992)"><rect class="bd" x="0" y="27" width="467" height="120"/><rect class="hd" x="0" y="0" width="467" height="27"/><text class="h" x="233" y="18">hardware</text>
<text class="b" x="3" y="42">hardware_manufacturer(设备品牌)</text><text class="b" x="358" y="42">StringProperty</text>
<text class="b" x="3" y="62">hardware_name(设备型号)</text><text class="b" x="358" y="62">StringProperty</text>
<text class="f" x="3" y="82">hardwaretype_id(关联硬件类型ID)</text><text class="f" x="358" y="82">ReferenceProperty</text>
<text class="f" x="3" y="102">hardware_port_num(如果是交换机，则必须填写端口总数量)</text><text class="f" x="358" y="102">IntegerProperty</text>
<text class="f" x="3" y="122">comment(备注)</text><text class="f" x="358" y="122">StringProperty</text>
<text class="f" x="3" y="142">id</text><text class="f" x="358" y="142">IntegerProperty</text></g>

<g transform="translate(3257,1022)"><rect class="bd" x="0" y="27" width="373" height="60"/><rect class="hd" x="0" y="0" width="373" height="27"/><text class="h" x="186" y="18">hardwarewarranty</text>
<text class="b" x="3" y="42">hardwarewarranty_name(保修状态名称)</text><text class="b" x="273" y="42">StringProperty</text>
<text class="f" x="3" y="62">comment(备注)</text><text class="f" x="273" y="62">StringProperty</text>
<text class="f" x="3" y="82">id</text><text class="f" x="273" y="82">IntegerProperty</text></g>

<g transform="translate(2785,1492)"><rect class="bd" x="0" y="27" width="384" height="80"/><rect class="hd" x="0" y="0" width="384" height="27"/><text class="h" x="192" y="18">hardwaretype</text>
<text class="b" x="3" y="42">hardwaretype_name(硬件类型名称)</text><text class="b" x="284" y="42">StringProperty</text>
<text class="f" x="3" y="62">hardware_isport(是否有端口统计 0:没有 1：有)</text><text class="f" x="284" y="62">IntegerProperty</text>
<text class="f" x="3" y="82">comment(备注)</text><text class="f" x="284" y="82">StringProperty</text>
<text class="f" x="3" y="102">id</text><text class="f" x="284" y="102">IntegerProperty</text></g>

<g transform="translate(5142,992)"><rect class="bd" x="0" y="27" width="380" height="120"/><rect class="hd" x="0" y="0" width="380" height="27"/><text class="h" x="190" y="18">applicationtype</text>
<text class="b" x="3" y="42">applicationtype_name(应用名称)</text><text class="b" x="271" y="42">StringProperty</text>
<text class="f" x="3" y="62">opersgroupproject_id(关联运营组项目信息ID)</text><text class="f" x="271" y="62">ReferenceProperty</text>
<text class="f" x="3" y="82">applicationtype_dep_env(部署要求)</text><text class="f" x="271" y="82">StringProperty</text>
<text class="f" x="3" y="102">applicationtype_dep_doc(部署文档)</text><text class="f" x="271" y="102">TextProperty</text>
<text class="f" x="3" y="122">comment(备注)</text><text class="f" x="271" y="122">StringProperty</text>
<text class="f" x="3" y="142">id</text><text class="f" x="271" y="142">IntegerProperty</text></g>

<g transform="translate(5164,1500)"><rect class="bd" x="0" y="27" width="336" height="80"/><rect class="hd" x="0" y="0" width="336" height="27"/><text class="h" x="168" y="18">opersgroupproject</text>
<text class="b" x="3" y="42">ogproject_name(运营组项目名称)</text><text class="b" x="227" y="42">StringProperty</text>
<text class="f" x="3" y="62">opersgroup_id(关联运营组信息ID)</text><text class="f" x="227" y="62">ReferenceProperty</text>
<text class="f" x="3" y="82">comment(备注)</text><text class="f" x="227" y="82">StringProperty</text>
<text class="f" x="3" y="102">id</text><text class="f" x="227" y="102">IntegerProperty</text></g>

<g transform="translate(5172,1776)"><rect class="bd" x="0" y="27" width="320" height="80"/><rect class="hd" x="0" y="0" width="320" height="27"/><text class="h" x="160" y="18">opersgroup</text>
<text class="b" x="3" y="42">opersgroup_name(运营组名称)</text><text class="b" x="211" y="42">StringProperty</text>
<text class="f" x="3" y="62">department_id(关联部门信息ID)</text><text class="f" x="211" y="62">ReferenceProperty</text>
<text class="f" x="3" y="82">comment(备注)</text><text class="f" x="211" y="82">StringProperty</text>
<text class="f" x="3" y="102">id</text><text class="f" x="211" y="102">IntegerProperty</text></g>

<g transform="translate(5182,1971)"><rect class="bd" x="0" y="27" width="300" height="60"/><rect class="hd" x="0" y="0" width="300" height="27"/><text class="h" x="150" y="18">department</text>
<text class="b" x="3" y="42">department_name(部门名称)</text><text class="b" x="199" y="42">StringProperty</text>
<text class="f" x="3" y="62">comment(备注)</text><text class="f" x="199" y="62">StringProperty</text>
<text class="f" x="3" y="82">id</text><text class="f" x="199" y="82">IntegerProperty</text></g>
</svg>
</body></html>
